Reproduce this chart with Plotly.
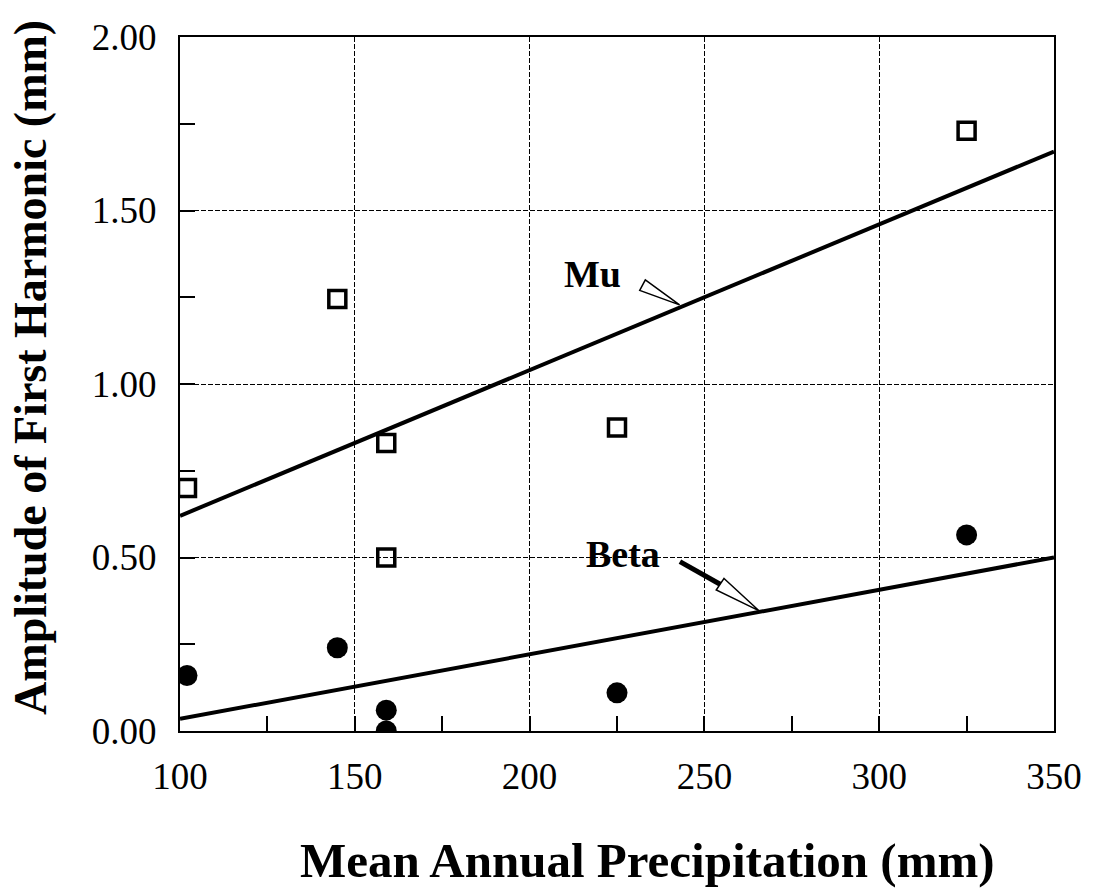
import plotly.graph_objects as go

# Mean annual precipitation (mm) at each site
precip = [102, 145, 159, 159, 225, 325]
# Amplitude of first harmonic (mm)
mu_amp = [0.70, 1.245, 0.83, 0.50, 0.875, 1.73]
beta_amp = [0.16, 0.24, 0.06, 0.00, 0.11, 0.565]

# Fitted trend lines (end points over the axis range)
fit_x = [100, 350]
mu_fit = [0.62, 1.67]
beta_fit = [0.035, 0.50]

x_ticks = [100, 150, 200, 250, 300, 350]
y_ticks = [0.0, 0.5, 1.0, 1.5, 2.0]
y_tick_text = ["0.00", "0.50", "1.00", "1.50", "2.00"]

W, H = 1094, 888
M = dict(l=180, r=36, t=37, b=157)
X_RANGE = [100, 350]
Y_RANGE = [0, 2.0]
px_x = (W - M["l"] - M["r"]) / (X_RANGE[1] - X_RANGE[0])
px_y = (H - M["t"] - M["b"]) / (Y_RANGE[1] - Y_RANGE[0])

SERIF = "Liberation Serif, Times New Roman, serif"

fig = go.Figure()

fig.add_trace(go.Scatter(x=fit_x, y=mu_fit, mode="lines",
                         line=dict(color="black", width=4), showlegend=False))
fig.add_trace(go.Scatter(x=fit_x, y=beta_fit, mode="lines",
                         line=dict(color="black", width=4), showlegend=False))
fig.add_trace(go.Scatter(x=precip, y=mu_amp, mode="markers",
                         marker=dict(symbol="square-open", size=17, color="black",
                                     line=dict(width=3.5, color="black")),
                         showlegend=False))
fig.add_trace(go.Scatter(x=precip, y=beta_amp, mode="markers",
                         marker=dict(symbol="circle", size=21, color="black"),
                         showlegend=False))


def wedge(tail, tip, half_px):
    """Hollow arrow wedge from tail (wide end) to tip, in data coordinates."""
    dx = (tip[0] - tail[0]) * px_x
    dy = (tip[1] - tail[1]) * px_y
    L = (dx * dx + dy * dy) ** 0.5
    nx, ny = -dy / L * half_px, dx / L * half_px
    a = (tail[0] + nx / px_x, tail[1] + ny / px_y)
    b = (tail[0] - nx / px_x, tail[1] - ny / px_y)
    return f"M {a[0]},{a[1]} L {tip[0]},{tip[1]} L {b[0]},{b[1]} Z"


# Mu label arrow
fig.add_shape(type="path", xref="x", yref="y",
              path=wedge((232.3, 1.285), (242.9, 1.228), 6),
              line=dict(color="black", width=1.5), fillcolor="white")
# Beta label arrow: thick shaft then hollow head
fig.add_shape(type="line", xref="x", yref="y", x0=243.0, y0=0.488, x1=255.0, y1=0.42,
              line=dict(color="black", width=5))
fig.add_shape(type="path", xref="x", yref="y",
              path=wedge((254.5, 0.423), (265.7, 0.346), 7),
              line=dict(color="black", width=1.5), fillcolor="white")

fig.add_annotation(x=218, y=1.318, text="<b>Mu</b>", showarrow=False,
                   font=dict(family=SERIF, size=38, color="black"))
fig.add_annotation(x=226.6, y=0.509, text="<b>Beta</b>", showarrow=False,
                   font=dict(family=SERIF, size=38, color="black"))

# Axis titles
fig.add_annotation(xref="paper", yref="paper", x=-0.171, y=0.524,
                   text="<b>Amplitude of First Harmonic (mm)</b>", textangle=-90,
                   showarrow=False, xanchor="center", yanchor="middle",
                   font=dict(family=SERIF, size=46, color="black"))
fig.add_annotation(xref="paper", yref="paper", x=0.535, y=-0.187,
                   text="<b>Mean Annual Precipitation (mm)</b>",
                   showarrow=False, xanchor="center", yanchor="middle",
                   font=dict(family=SERIF, size=49, color="black"))

axis_common = dict(
    showline=True, linecolor="black", linewidth=2, mirror=True,
    showgrid=True, gridcolor="black", gridwidth=1.2, griddash="5px,2px",
    ticks="inside", ticklen=15, tickcolor="black", tickwidth=1.5,
    zeroline=False,
    tickfont=dict(family=SERIF, size=37, color="black"),
)

fig.update_xaxes(range=X_RANGE, tickvals=x_ticks, ticklabelstandoff=12,
                 minor=dict(dtick=25, ticks="inside", ticklen=15, tickcolor="black",
                            tickwidth=1.5, showgrid=False),
                 **axis_common)
fig.update_yaxes(range=Y_RANGE, tickvals=y_ticks, ticktext=y_tick_text,
                 ticklabelstandoff=14,
                 minor=dict(dtick=0.25, ticks="inside", ticklen=15, tickcolor="black",
                            tickwidth=1.5, showgrid=False),
                 **axis_common)

fig.update_layout(width=W, height=H, margin=M,
                  paper_bgcolor="white", plot_bgcolor="white")

fig.write_html("out.html")
